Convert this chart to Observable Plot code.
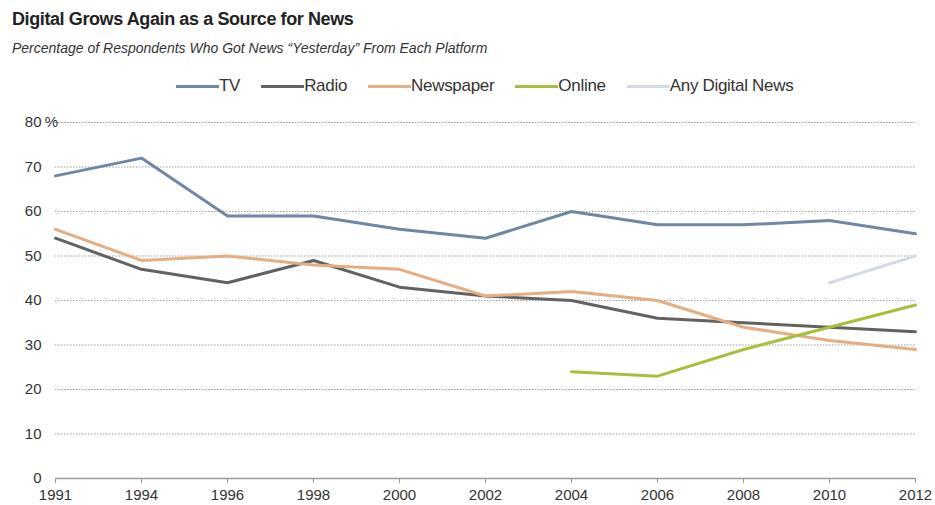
<!DOCTYPE html>
<html>
<head>
<meta charset="utf-8">
<script src="https://cdn.jsdelivr.net/npm/d3@7"></script>
<script src="https://cdn.jsdelivr.net/npm/@observablehq/plot@0.6"></script>
<style>
  body { margin: 0; background: #fff; font-family: "Liberation Sans", Arial, sans-serif; }
  #wrap { width: 935px; height: 505px; position: relative; overflow: hidden; }
  #header { height: 100px; position: relative; }
  #title { position: absolute; left: 12px; top: 9px; font-weight: bold; font-size: 18px; color: #222; letter-spacing: -0.4px; white-space: nowrap; }
  #subtitle { position: absolute; left: 12px; top: 40px; font-style: italic; font-size: 14px; color: #333; white-space: nowrap; }
  #legend { position: absolute; left: 176px; top: 76px; display: flex; gap: 21px; font-size: 17px; color: #333; white-space: nowrap; letter-spacing: -0.3px; }
  .item { display: flex; align-items: center; }
  .sw { width: 43px; height: 3px; margin-right: 0px; }
  svg { display: block; }
</style>
</head>
<body>
<div id="wrap">
  <div id="header">
    <div id="title"></div>
    <div id="subtitle"></div>
    <div id="legend"></div>
  </div>
  <div id="chart"></div>
</div>
<script>
const titleText = "Digital Grows Again as a Source for News";
const subtitleText = "Percentage of Respondents Who Got News \u201cYesterday\u201d From Each Platform";

const years = ["1991","1994","1996","1998","2000","2002","2004","2006","2008","2010","2012"];
const seriesNames = ["TV","Radio","Newspaper","Online","Any Digital News"];
const seriesColors = ["#6f87a5","#626262","#e6ad82","#a8bf3d","#d6dbe3"];

const tv        = [68, 72, 59, 59, 56, 54, 60, 57, 57, 58, 55];
const radio     = [54, 47, 44, 49, 43, 41, 40, 36, 35, 34, 33];
const newspaper = [56, 49, 50, 48, 47, 41, 42, 40, 34, 31, 29];
const online    = [null, null, null, null, null, null, 24, 23, 29, 34, 39];
const anyDigital= [null, null, null, null, null, null, null, null, null, 44, 50];

const yTicks = [0, 10, 20, 30, 40, 50, 60, 70, 80];

document.getElementById("title").textContent = titleText;
document.getElementById("subtitle").textContent = subtitleText;

const legend = document.getElementById("legend");
seriesNames.forEach((n, i) => {
  const it = document.createElement("div");
  it.className = "item";
  const sw = document.createElement("div");
  sw.className = "sw";
  sw.style.background = seriesColors[i];
  const t = document.createElement("span");
  t.textContent = n;
  it.appendChild(sw); it.appendChild(t);
  legend.appendChild(it);
});

const allSeries = [tv, radio, newspaper, online, anyDigital];
const rows = [];
allSeries.forEach((vals, si) => {
  vals.forEach((v, i) => {
    if (v != null) rows.push({series: seriesNames[si], year: years[i], value: v});
  });
});

const chart = Plot.plot({
  width: 935,
  height: 405,
  marginLeft: 55,
  marginRight: 20,
  marginTop: 22,
  marginBottom: 27,
  style: { fontFamily: "Liberation Sans, Arial, sans-serif", fontSize: "15px", color: "#333", background: "#fff", overflow: "visible" },
  x: { type: "point", domain: years, padding: 0, label: null },
  y: { domain: [0, 80], label: null },
  color: { domain: seriesNames, range: seriesColors },
  marks: [
    Plot.ruleY(yTicks.filter(d => d > 0), { stroke: "#9a9a9a", strokeDasharray: "1.5,1.5", strokeWidth: 1 }),
    Plot.ruleY([0], { stroke: "#9a9a9a", strokeWidth: 1.5 }),
    Plot.axisX({ ticks: years, tickSize: 5, tickPadding: 6, stroke: "#9a9a9a", fill: "#333", fontSize: 15 }),
    Plot.axisY({ ticks: yTicks, tickSize: 0, tickPadding: 14, fill: "#333", fontSize: 15 }),
    Plot.text([80], { y: d => d, frameAnchor: "left", text: () => "%", dx: -4, textAnchor: "middle", fill: "#333", fontSize: 15 }),
    Plot.line(rows, { x: "year", y: "value", z: "series", stroke: "series", strokeWidth: 3, strokeLinejoin: "miter" })
  ]
});
document.getElementById("chart").appendChild(chart);
</script>
</body>
</html>
